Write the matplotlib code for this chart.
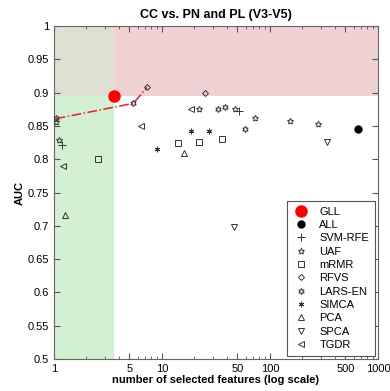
import matplotlib
matplotlib.use("Agg")
import matplotlib.pyplot as plt
from matplotlib.ticker import FixedLocator, NullFormatter

plt.rcParams['font.family'] = ['Liberation Sans', 'DejaVu Sans']

# ---- data ----
gll_x, gll_y = [3.62], [0.895]
all_x, all_y = [649], [0.846]
svm_x, svm_y = [1.19, 51.6], [0.821, 0.872]
uaf_x = [1.04, 1.11, 21.9, 47.4, 72.6, 153, 277]
uaf_y = [0.856, 0.829, 0.875, 0.875, 0.862, 0.858, 0.853]
mrmr_x, mrmr_y = [2.54, 14.0, 22.0, 35.7], [0.800, 0.825, 0.826, 0.830]
rfvs_x, rfvs_y = [7.31, 25.2], [0.908, 0.900]
lars_x = [1.04, 5.42, 32.8, 38.6, 58.3]
lars_y = [0.862, 0.884, 0.876, 0.878, 0.845]
simca_x, simca_y = [8.93, 18.8, 27.2], [0.815, 0.842, 0.843]
pca_x, pca_y = [1.26, 16.1], [0.717, 0.810]
spca_x, spca_y = [46.1, 335], [0.698, 0.826]
tgdr_x, tgdr_y = [1.22, 6.35, 18.6], [0.790, 0.850, 0.876]
path_x, path_y = [1.04, 5.42, 7.31], [0.861, 0.884, 0.908]

xticks = [1, 5, 10, 50, 100, 500, 1000]
yticks = [0.5, 0.55, 0.6, 0.65, 0.7, 0.75, 0.8, 0.85, 0.9, 0.95, 1]

fig = plt.figure(figsize=(3.9, 3.91), dpi=100)
ax = fig.add_axes([0.138, 0.082, 0.831, 0.851])
ax.set_xscale('log')
ax.set_xlim(1, 1000)
ax.set_ylim(0.5, 1)

# shaded regions around the GLL point
gx, gy = gll_x[0], gll_y[0]
ax.fill_between([1, gx], 0.5, gy, color='#d3f0d3', lw=0, zorder=0)
ax.fill_between([gx, 1000], gy, 1, color='#f0d1d4', lw=0, zorder=0)
ax.fill_between([1, gx], gy, 1, color='#dfdfd2', lw=0, zorder=0)

ax.plot(path_x, path_y, color='#e8202a', ls='-.', lw=1.1, zorder=2)

ec = '#333333'
ms = 4
hollow = dict(ls='none', mfc='none', mec=ec, mew=0.7, zorder=3)
ax.plot(gll_x, gll_y, 'o', ls='none', color='red', ms=8, label='GLL', zorder=4)
ax.plot(all_x, all_y, 'o', ls='none', color='black', ms=5, label='ALL', zorder=4)
ax.plot(svm_x, svm_y, '+', ms=5.5, label='SVM-RFE', **hollow)
ax.plot(uaf_x, uaf_y, marker=(5, 1, 0), ms=ms + 0.5, label='UAF', **hollow)
ax.plot(mrmr_x, mrmr_y, 's', ms=ms, label='mRMR', **hollow)
ax.plot(rfvs_x, rfvs_y, 'D', ms=ms - 1, label='RFVS', **hollow)
ax.plot(lars_x, lars_y, marker=(6, 1, 0), ms=ms + 0.5, label='LARS-EN', **hollow)
ax.plot(simca_x, simca_y, marker=(6, 2, 0), ms=ms, label='SIMCA', **hollow)
ax.plot(pca_x, pca_y, '^', ms=ms + 0.5, label='PCA', **hollow)
ax.plot(spca_x, spca_y, 'v', ms=ms + 0.5, label='SPCA', **hollow)
ax.plot(tgdr_x, tgdr_y, '<', ms=ms + 0.5, label='TGDR', **hollow)

ax.xaxis.set_major_locator(FixedLocator(xticks))
ax.set_xticklabels([str(t) for t in xticks])
ax.xaxis.set_minor_formatter(NullFormatter())
ax.set_yticks(yticks)
ax.set_yticklabels(['0.5', '0.55', '0.6', '0.65', '0.7', '0.75', '0.8',
                    '0.85', '0.9', '0.95', '1'])
ax.tick_params(which='both', direction='in', top=True, right=True,
               labelsize=8, color='#555555')
ax.tick_params(which='major', length=4)
ax.tick_params(which='minor', length=2)
for s in ax.spines.values():
    s.set_color('#666666')

ax.set_title('CC vs. PN and PL (V3-V5)', fontsize=9, fontweight='bold', pad=6)
ax.set_xlabel('number of selected features (log scale)', fontsize=8,
              fontweight='bold', labelpad=1)
ax.set_ylabel('AUC', fontsize=8, fontweight='bold', labelpad=2)

leg = ax.legend(loc='lower right', fontsize=8, frameon=True, fancybox=False,
                edgecolor='#555555', framealpha=1, borderaxespad=0.3,
                handletextpad=0.8, labelspacing=0.3, numpoints=1,
                handlelength=1.6, borderpad=0.5)
leg.get_frame().set_linewidth(0.8)

fig.savefig('out.png', dpi=100)
